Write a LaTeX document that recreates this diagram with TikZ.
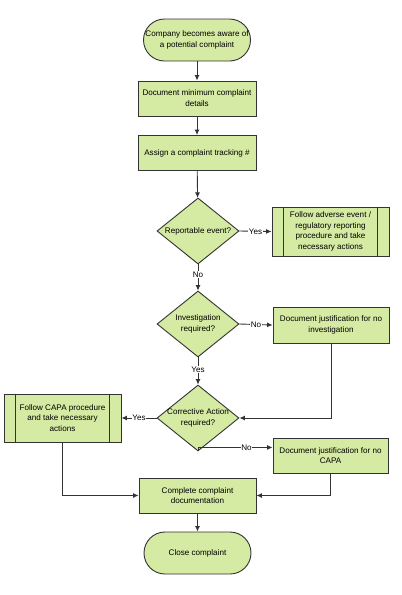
\documentclass[tikz,border=0pt]{standalone}
\usepackage{fontspec}
\setmainfont{Liberation Sans}
\usetikzlibrary{shapes.geometric,arrows.meta}
\definecolor{boxfill}{RGB}{213,234,163}
\definecolor{boxline}{RGB}{51,51,51}
\begin{document}
\begin{tikzpicture}[x=1pt,y=-1pt,
  every node/.style={font=\fontsize{8.1}{10.8}\selectfont, text=black},
  base/.style={draw=boxline, line width=0.9pt, fill=boxfill, align=center, inner sep=1pt},
  procbox/.style={base, rectangle, minimum width=118pt, minimum height=35pt},
  termbox/.style={base, rectangle, rounded corners=21pt, minimum width=107pt, minimum height=42pt},
  decbox/.style={base, diamond, minimum width=82pt, minimum height=66pt, aspect=1.24, inner sep=0pt},
  subbox/.style={base, rectangle, minimum width=117pt, minimum height=48pt},
  conn/.style={draw=boxline, line width=0.9pt, -{Latex[length=5.5pt,width=5pt]}},
  lbl/.style={fill=white, inner sep=0.6pt}
]
\useasboundingbox (0,0) rectangle (402,595);

\node[termbox] (start) at (197,40) {Company becomes aware of\\a potential complaint};
\node[procbox] (doc) at (197,98.5) {Document minimum complaint\\details};
\node[procbox] (assign) at (197,153) {Assign a complaint tracking \#};
\node[decbox] (rep) at (198,231) {\makebox[0pt]{Reportable event?}};
\node[subbox, minimum height=49pt] (adv) at (330.5,231.5) {Follow adverse event /\\regulatory reporting\\procedure and take\\necessary actions};
\node[decbox] (inv) at (198,324) {Investigation\\required?};
\node[procbox, minimum width=116pt, minimum height=36pt] (noinv) at (331,325) {Document justification for no\\investigation};
\node[decbox] (capa) at (198,418) {\makebox[0pt]{Corrective Action}\\required?};
\node[subbox] (fcapa) at (62.5,418) {Follow CAPA procedure\\and take necessary\\actions};
\node[procbox, minimum width=115pt] (nocapa) at (330.5,455.5) {Document justification for no\\CAPA};
\node[procbox, minimum width=117pt] (comp) at (197.5,495.5) {Complete complaint\\documentation};
\node[termbox] (close) at (197.5,553) {Close complaint};

% inner lines of subprocess boxes
\foreach \n in {adv,fcapa}{
  \draw[boxline, line width=0.9pt] ([xshift=12pt]\n.north west) -- ([xshift=12pt]\n.south west);
  \draw[boxline, line width=0.9pt] ([xshift=-12pt]\n.north east) -- ([xshift=-12pt]\n.south east);
}

\draw[conn] (start) -- (doc);
\draw[conn] (doc) -- (assign);
\draw[conn] (assign) -- (rep);
\draw[conn] (rep.east) -- node[lbl] {Yes} (adv.west);
\draw[conn] (rep.south) -- node[lbl, pos=0.4] {No} (inv.north);
\draw[conn] (inv.east) -- node[lbl] {No} (noinv.west);
\draw[conn] (inv.south) -- node[lbl, pos=0.45] {Yes} (capa.north);
\draw[conn] (noinv.south) |- (capa.east);
\draw[conn] (capa.west) -- node[lbl] {Yes} (fcapa.east);
\coordinate (cb) at ([yshift=4pt]capa.south);
\draw[conn] (capa.south) -- (cb) -- node[lbl, pos=0.65] {No} (cb -| nocapa.west);
\draw[conn] (fcapa.south) |- (comp.west);
\draw[conn] (nocapa.south) |- (comp.east);
\draw[conn] (comp) -- (close);
\end{tikzpicture}
\end{document}
